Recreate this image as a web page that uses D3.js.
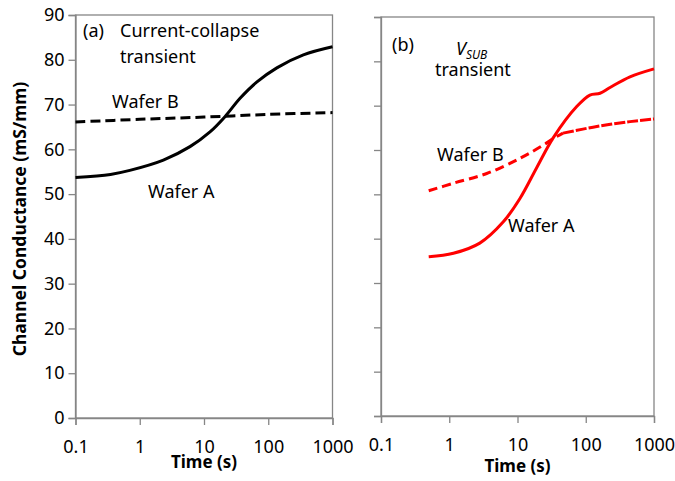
<!DOCTYPE html>
<html lang="en">
<head>
    <meta charset="UTF-8">
    <title>Channel Conductance Transients</title>
    <script src="https://d3js.org/d3.v7.min.js"></script>
    <style>
        body { margin: 0; background: #fff; }
        text { font-family: "Noto Sans", sans-serif; fill: #000; }
    </style>
</head>
<body>
    <svg id="chart" width="675" height="481"></svg>

    <script>
        // Panel (a): current-collapse transient (black)
        const timeA1 = [0.1, 0.35, 0.7, 2.33, 6.05, 12.4, 21.2, 36.4, 66, 136, 352, 1000];
        const gA1 = [53.7, 54.4, 55.3, 57.6, 60.6, 63.9, 67.3, 71.4, 75.0, 78.2, 81.1, 82.9];
        const timeB1 = [0.1, 1, 10, 100, 1000];
        const gB1 = [66.1, 66.7, 67.2, 67.8, 68.2];

        // Panel (b): VSUB transient (red)
        const timeA2 = [0.5, 1.15, 2.8, 6.2, 10.8, 19.1, 33.5, 73.7, 115, 162, 227, 445, 1000];
        const gA2 = [35.9, 36.7, 39.0, 43.8, 49.0, 56.0, 62.8, 69.8, 72.4, 72.8, 74.1, 76.5, 78.3];
        const timeB2 = [0.5, 1.15, 3.54, 10.8, 23.9, 33.5, 46.5, 145, 445, 1000];
        const gB2 = [50.8, 52.5, 54.7, 58.1, 61.1, 62.6, 63.8, 65.3, 66.4, 67.0];

        const timeTicks = [0.1, 1, 10, 100, 1000];
        const gTicks = [0, 10, 20, 30, 40, 50, 60, 70, 80, 90];

        const svg = d3.select("#chart");
        const axisColor = "#868686";

        function panel(box, showLabels) {
            const x = d3.scaleLog().domain([0.1, 1000]).range([box.x0, box.x1]);
            const y = d3.scaleLinear().domain([0, 90]).range([box.y1, box.y0]);

            // plot frame
            svg.append("rect")
                .attr("x", box.x0).attr("y", box.y0)
                .attr("width", box.x1 - box.x0).attr("height", box.y1 - box.y0)
                .attr("fill", "none").attr("stroke", axisColor).attr("stroke-width", 1.3);

            const xAxis = svg.append("g")
                .attr("transform", "translate(0," + box.y1 + ")")
                .call(d3.axisBottom(x).tickValues(timeTicks).tickSize(7).tickPadding(15)
                    .tickFormat(d => d3.format("~g")(d)));
            const yAxis = svg.append("g")
                .attr("transform", "translate(" + box.x0 + ",0)")
                .call(d3.axisLeft(y).tickValues(gTicks).tickSize(7).tickPadding(4)
                    .tickFormat(d => showLabels ? d : ""));

            [xAxis, yAxis].forEach(g => {
                g.select(".domain").attr("stroke", axisColor).attr("stroke-width", 1.3);
                g.selectAll(".tick line").attr("stroke", axisColor).attr("stroke-width", 1.3);
                g.selectAll(".tick text")
                    .attr("font-family", "'Noto Sans', sans-serif")
                    .attr("font-size", 18).attr("fill", "#000");
            });

            svg.append("text")
                .attr("x", (box.x0 + box.x1) / 2).attr("y", box.titleY)
                .attr("text-anchor", "middle")
                .attr("font-size", 17).attr("font-weight", "bold")
                .text("Time (s)");

            return { x, y };
        }

        function drawLine(s, ts, vs, color, dash) {
            const pts = ts.map((t, i) => [s.x(t), s.y(vs[i])]);
            svg.append("path")
                .attr("d", d3.line().curve(d3.curveCatmullRom.alpha(0.5))(pts))
                .attr("fill", "none")
                .attr("stroke", color)
                .attr("stroke-width", 3)
                .attr("stroke-dasharray", dash || null);
        }

        function label(xp, yp, str, size) {
            return svg.append("text").attr("x", xp).attr("y", yp)
                .attr("font-size", size || 18).text(str);
        }

        // ---- panel (a)
        const pa = panel({ x0: 75.5, x1: 332.5, y0: 15, y1: 418, titleY: 468 }, true);
        drawLine(pa, timeB1, gB1, "#000", "10,5");
        drawLine(pa, timeA1, gA1, "#000");

        svg.append("text")
            .attr("transform", "translate(26,219) rotate(-90)")
            .attr("text-anchor", "middle")
            .attr("font-size", 17.5).attr("font-weight", "bold")
            .text("Channel Conductance  (mS/mm)");

        label(83, 37, "(a)");
        label(120, 37, "Current-collapse");
        label(120, 63, "transient");
        label(112, 108, "Wafer B");
        label(148, 198, "Wafer A");

        // ---- panel (b)
        const pb = panel({ x0: 381, x1: 654, y0: 17, y1: 416, titleY: 472 }, false);
        // wafer B: sparse dashes early, dense where the measured points crowd together
        const split = 6;
        drawLine(pb, timeB2.slice(0, split + 1), gB2.slice(0, split + 1), "#ff0000", "9,5");
        drawLine(pb, timeB2.slice(split), gB2.slice(split), "#ff0000", "11,2");
        drawLine(pb, timeA2, gA2, "#ff0000");

        label(392, 51, "(b)");
        const vs = label(456, 55, "", 18);
        vs.append("tspan").attr("font-style", "italic").text("V");
        vs.append("tspan").attr("font-style", "italic").attr("font-size", 12)
            .attr("dy", 4).text("SUB");
        label(435, 76, "transient");
        label(437, 161, "Wafer B");
        label(508, 232, "Wafer A");
    </script>
</body>
</html>
